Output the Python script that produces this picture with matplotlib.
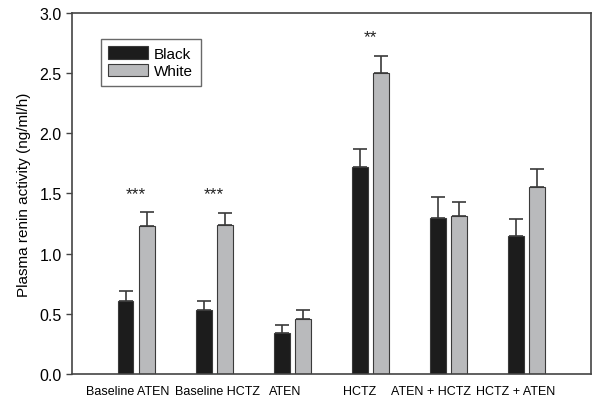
import numpy as np
import matplotlib.pyplot as plt

plt.rcParams["font.family"] = ["Liberation Sans", "DejaVu Sans"]

categories = ["Baseline ATEN", "Baseline HCTZ", "ATEN", "HCTZ", "ATEN + HCTZ", "HCTZ + ATEN"]
black_mean = [0.61, 0.53, 0.34, 1.72, 1.30, 1.15]
black_err = [0.08, 0.08, 0.07, 0.15, 0.17, 0.14]
white_mean = [1.23, 1.24, 0.46, 2.50, 1.31, 1.55]
white_err = [0.12, 0.10, 0.07, 0.14, 0.12, 0.15]
stars = ["***", "***", "", "**", "", ""]
star_y = [1.5, 1.5, 0, 2.8, 0, 0]

x = np.arange(len(categories))
width = 0.2
off = 0.135
edge = "#3a3a3a"
# labels in the original sit a bit left of their group
label_shift = np.array([-0.11, 0.045, -0.09, -0.135, -0.23, -0.14])

fig = plt.figure(figsize=(6.01, 4.06), dpi=100)
ax = fig.add_axes([0.12, 0.076, 0.863, 0.89])

ekw = dict(ecolor=edge, elinewidth=1.2, capsize=5, capthick=1.2)
ax.bar(x - off, black_mean, width, color="#1c1c1c", edgecolor=edge, linewidth=0.8,
       yerr=[np.zeros(len(x)), black_err], error_kw=ekw, label="Black", zorder=2)
ax.bar(x + off, white_mean, width, color="#b9babc", edgecolor=edge, linewidth=0.8,
       yerr=[np.zeros(len(x)), white_err], error_kw=ekw, label="White", zorder=2)

for xi, s, sy in zip(x, stars, star_y):
    if s:
        ax.text(xi, sy, s, ha="center", va="center", fontsize=12.5, color="#222222")

ax.set_xlim(-0.82, 5.82)
ax.set_ylim(0, 3.0)
yt = np.arange(0, 3.01, 0.5)
ax.set_yticks(yt)
ax.set_yticklabels([f"{v:.1f}" for v in yt], fontsize=11.5)
ax.set_xticks(x + label_shift)
ax.set_xticklabels(categories, fontsize=9)
ax.tick_params(axis="x", length=0, pad=8)
ax.tick_params(axis="y", length=4, width=1, color="#444444", direction="out")
ax.set_ylabel("Plasma renin activity (ng/ml/h)", fontsize=11, labelpad=6)
for sp in ax.spines.values():
    sp.set_color("#444444")
    sp.set_linewidth(1.2)

leg = ax.legend(loc="upper left", bbox_to_anchor=(0.04, 0.95), fontsize=11, frameon=True,
                fancybox=False, edgecolor="#444444", handlelength=2.6, handleheight=0.9,
                borderpad=0.5, labelspacing=0.2, handletextpad=0.4)
leg.get_frame().set_linewidth(1.0)

fig.savefig("out.png", dpi=100)
